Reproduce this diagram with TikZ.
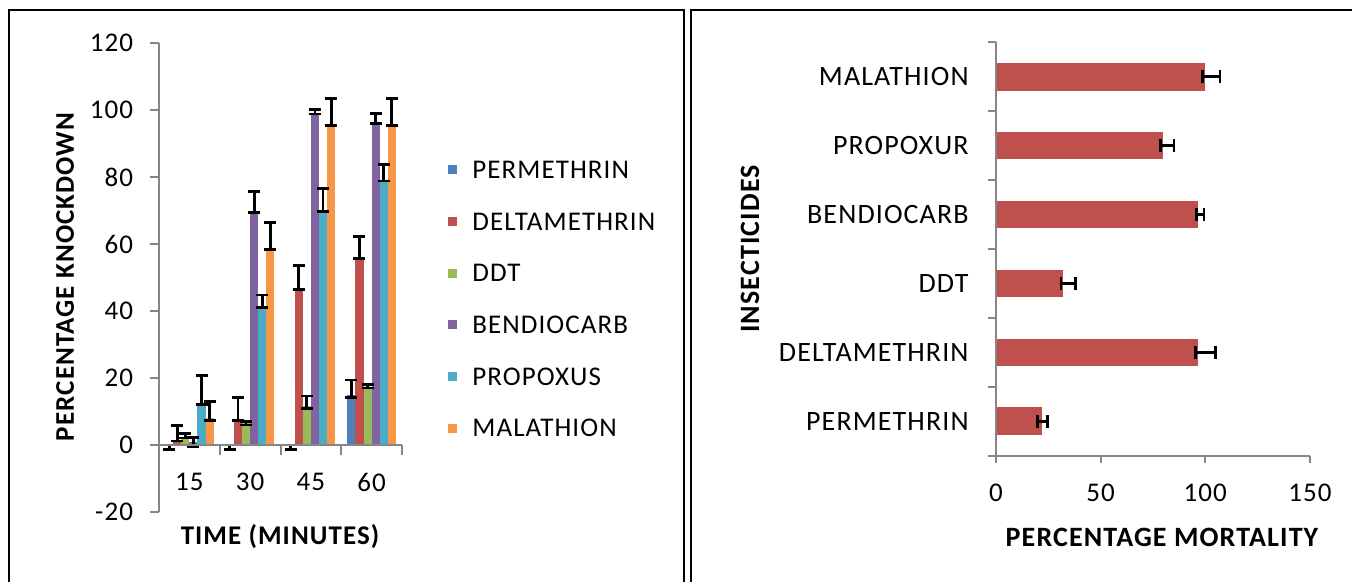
\documentclass[tikz,border=0pt]{standalone}
\usepackage{fontspec}
\setmainfont{Carlito}[LetterSpace=4]

\definecolor{perm}{HTML}{4F81BD}
\definecolor{delta}{HTML}{C0504D}
\definecolor{ddt}{HTML}{9BBB59}
\definecolor{bendio}{HTML}{8064A2}
\definecolor{propo}{HTML}{4BACC6}
\definecolor{mala}{HTML}{F79646}
\definecolor{axisgray}{HTML}{868686}

\tikzset{
  axisline/.style={draw=axisgray, line width=1pt},
  errbar/.style={line width=1.4pt},
  title/.style={font=\fontsize{13.5}{15}\selectfont\bfseries},
  bigtitle/.style={font=\fontsize{14}{16}\selectfont\bfseries},
}

% knockdown data: category/series/colour/value/low/high
\def\kddata{0/0/perm/0/-1.3/0, 1/0/perm/0/-1.3/0, 2/0/perm/0/-1.3/0, 3/0/perm/15/14.1/19.4,
  0/1/delta/1.5/1.2/5.8, 1/1/delta/7.5/7.2/14.1, 2/1/delta/46.5/46.3/53.7, 3/1/delta/56/55.7/62.2,
  0/2/ddt/2.3/2.1/3.5, 1/2/ddt/6.5/6/7, 2/2/ddt/11.5/11/14.6, 3/2/ddt/17.4/17/18,
  0/3/bendio/0.9/-0.5/2.3, 1/3/bendio/69.6/69.4/75.6, 2/3/bendio/99/98.8/100.2, 3/3/bendio/96.2/96/99,
  0/4/propo/12.4/12.2/20.7, 1/4/propo/41.5/41/44.8, 2/4/propo/70/69.8/76.6, 3/4/propo/79.1/78.8/83.8,
  0/5/mala/8.2/7.3/13.1, 1/5/mala/58.7/58.4/66.4, 2/5/mala/95.5/95.3/103.5, 3/5/mala/95.5/95.3/103.5}

\begin{document}
\begin{tikzpicture}[x=0.5pt, y=-0.5pt, font=\fontsize{13.5}{15}\selectfont]
\useasboundingbox (0,0) rectangle (1352,582);

% frames
\draw[line width=1pt] (9,600) -- (9,10) -- (683.5,10) -- (683.5,600);
\draw[line width=1pt] (691,600) -- (691,10) -- (1370,10);

% left chart
\begin{scope}[shift={(159,445)}, x=30.375pt, y=1.675pt]
\draw[axisline] (0,-20) -- (0,120);
\foreach \v in {-20,0,...,120}
\draw[axisline] (0,\v) -- ++(-4.5pt,0) node[anchor=east, inner sep=0pt, xshift=-8pt] (ky\v) {\v};

\foreach \c/\k/\col/\v/\lo/\hi in \kddata
\fill[\col] ({\c+0.1+\k*0.1333},0) rectangle ++(0.1333,\v);

\foreach \c/\k/\col/\v/\lo/\hi in \kddata{
\pgfmathsetmacro\bx{\c+0.1+\k*0.1333+0.0667}
\draw[errbar] (\bx,\lo) -- (\bx,\hi)
  (\bx,\lo) ++(-3pt,0) -- ++(6pt,0)
  (\bx,\hi) ++(-3pt,0) -- ++(6pt,0);
}

\draw[axisline] (0,0) -- (4,0);
\foreach \c in {1,...,4}
\draw[axisline] (\c,0) -- ++(0,-5pt);
\foreach \t [count=\i] in {15,30,45,60}
\node[yshift=-18.5pt] (kx\t) at (\i-0.5,0) {\t};
\end{scope}

\node[title, rotate=90] (kdtitle) at (65,277) {PERCENTAGE KNOCKDOWN};
\node[title] (timetitle) at (280,537) {TIME (MINUTES)};

% legend
\foreach \col/\name [count=\i] in {perm/PERMETHRIN, delta/DELTAMETHRIN, ddt/DDT,
  bendio/BENDIOCARB, propo/PROPOXUS, mala/MALATHION}{
\fill[\col] (447.5,{165.5+(\i-1)*51.6}) rectangle ++(9,9);
\node[anchor=west, inner sep=0pt] (leg\i) at (472,{170+(\i-1)*51.6}) {\name};
}

% right chart
\begin{scope}[shift={(996,455.7)}, x=1.0465pt, y=34.45pt]
\foreach \v/\lo/\hi/\name [count=\i] in {22/20/24.5/PERMETHRIN, 96.7/95.4/105/DELTAMETHRIN,
  32/31/38/DDT, 96.7/95.6/99.4/BENDIOCARB, 80/78.5/85/PROPOXUR, 100/98.5/107/MALATHION}{
\fill[delta] (0,\i-0.7) rectangle (\v,\i-0.3);
\draw[errbar] (\lo,\i-0.5) -- (\hi,\i-0.5)
  (\lo,\i-0.5) ++(0,-3.25pt) -- ++(0,6.5pt)
  (\hi,\i-0.5) ++(0,-3.25pt) -- ++(0,6.5pt);
\node[anchor=east, inner sep=0pt, xshift=-13.5pt, font=\fontsize{14}{16}\selectfont] (ins\i) at (0,\i-0.5) {\name};
}
\draw[axisline] (0,0) -- (0,6);
\foreach \i in {0,...,6}
\draw[axisline] (0,\i) -- ++(-4pt,0);
\draw[axisline] (0,0) -- (150,0);
\foreach \v in {0,50,100,150}{
\draw[axisline] (\v,0) -- ++(0,-3.5pt);
\node[yshift=-18.5pt] (mx\v) at (\v,0) {\v};
}
\end{scope}

\node[bigtitle, rotate=90] (institle) at (750,249) {INSECTICIDES};
\node[bigtitle] (mortitle) at (1162,537) {PERCENTAGE MORTALITY};
\end{tikzpicture}
\end{document}
